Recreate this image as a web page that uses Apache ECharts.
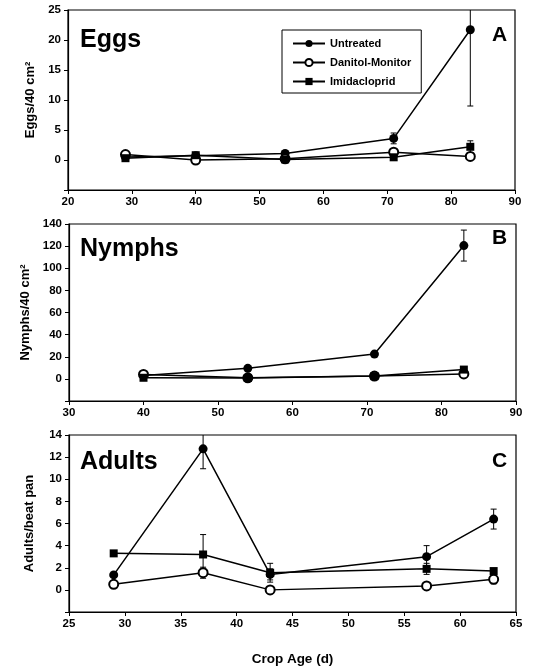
<!DOCTYPE html>
<html>
<head>
<meta charset="utf-8">
<script src="https://cdn.jsdelivr.net/npm/echarts@6/dist/echarts.min.js"></script>
<style>html,body{margin:0;padding:0;background:#fff}#c{width:552px;height:671px}</style>
</head>
<body>
<div id="c"></div>
<script>
// ---- data ----
const seriesNames = ['Untreated', 'Danitol-Monitor', 'Imidacloprid'];
const panelTitles = ['Eggs', 'Nymphs', 'Adults'];
const panelLetters = ['A', 'B', 'C'];
const yNames = ['Eggs/40 cm²', 'Nymphs/40 cm²', 'Adults/beat pan'];
const xName = 'Crop Age (d)';

const eggsX = [29, 40, 54, 71, 83];
const eggsUntreated = [0.5, 0.7, 1.1, 3.6, 21.7];
const eggsUntreatedErr = [0, 0, 0.3, 0.9, 12.7];
const eggsDanitol = [0.9, 0.0, 0.2, 1.3, 0.6];
const eggsDanitolErr = [0, 0, 0, 0.3, 0];
const eggsImid = [0.3, 0.8, 0.1, 0.45, 2.2];
const eggsImidErr = [0, 0.2, 0, 0, 1.0];

const nymphsX = [40, 54, 71, 83];
const nymphsUntreated = [3, 9.5, 22.4, 120.5];
const nymphsUntreatedErr = [0, 0, 0, 14];
const nymphsDanitol = [4, 1, 2.5, 4.5];
const nymphsDanitolErr = [0, 0, 0, 0];
const nymphsImid = [1, 0.8, 2.5, 8.4];
const nymphsImidErr = [0, 0, 0, 0];

const adultsX = [29, 37, 43, 57, 63];
const adultsUntreated = [1.35, 12.75, 1.4, 3.0, 6.4];
const adultsUntreatedErr = [0, 1.8, 0.5, 1.0, 0.9];
const adultsDanitol = [0.5, 1.55, 0, 0.36, 0.95];
const adultsDanitolErr = [0, 0.5, 0, 0, 0.4];
const adultsImid = [3.3, 3.2, 1.55, 1.9, 1.7];
const adultsImidErr = [0, 1.8, 0.85, 0.5, 0];

const xAxes = [
  {min: 20, max: 90, interval: 10},
  {min: 30, max: 90, interval: 10},
  {min: 25, max: 65, interval: 5}
];
const yAxes = [
  {min: -5, max: 25, interval: 5},
  {min: -20, max: 140, interval: 20},
  {min: -2, max: 14, interval: 2}
];

const panels = [
  {x: eggsX, vals: [eggsUntreated, eggsDanitol, eggsImid], errs: [eggsUntreatedErr, eggsDanitolErr, eggsImidErr]},
  {x: nymphsX, vals: [nymphsUntreated, nymphsDanitol, nymphsImid], errs: [nymphsUntreatedErr, nymphsDanitolErr, nymphsImidErr]},
  {x: adultsX, vals: [adultsUntreated, adultsDanitol, adultsImid], errs: [adultsUntreatedErr, adultsDanitolErr, adultsImidErr]}
];

// ---- layout/style ----
const FONT = '"Liberation Sans", Arial, sans-serif';
const grids = [
  {left: 68, top: 10, width: 447, height: 180},
  {left: 69, top: 224, width: 447, height: 177},
  {left: 69, top: 435, width: 447, height: 177}
];
const symbols = ['circle', 'emptyCircle', 'rect'];
const symbolSizes = [9, 9, 8];

function errRender(params, api) {
  const x = api.value(0), y = api.value(1), e = api.value(2);
  if (!e) return null;
  const cs = params.coordSys;
  const top = api.coord([x, y + e]);
  const bot = api.coord([x, y - e]);
  const minY = cs.y, maxY = cs.y + cs.height;
  const t = Math.max(top[1], minY), b = Math.min(bot[1], maxY);
  const children = [{type: 'line', shape: {x1: top[0], y1: t, x2: bot[0], y2: b}, style: {stroke: '#000', lineWidth: 1}}];
  const hw = 3;
  if (top[1] >= minY) children.push({type: 'line', shape: {x1: top[0] - hw, y1: top[1], x2: top[0] + hw, y2: top[1]}, style: {stroke: '#000', lineWidth: 1}});
  if (bot[1] <= maxY) children.push({type: 'line', shape: {x1: bot[0] - hw, y1: bot[1], x2: bot[0] + hw, y2: bot[1]}, style: {stroke: '#000', lineWidth: 1}});
  return {type: 'group', children};
}

const series = [];
panels.forEach((p, pi) => {
  p.vals.forEach((v, si) => {
    series.push({
      type: 'custom', name: seriesNames[si] + ' err', xAxisIndex: pi, yAxisIndex: pi,
      renderItem: errRender, z: 1, silent: true,
      data: p.x.map((x, i) => [x, v[i], p.errs[si][i]])
    });
  });
  p.vals.forEach((v, si) => {
    series.push({
      type: 'line', name: seriesNames[si], xAxisIndex: pi, yAxisIndex: pi,
      data: p.x.map((x, i) => [x, v[i]]),
      symbol: symbols[si], symbolSize: symbolSizes[si], showSymbol: true,
      lineStyle: {color: '#000', width: 1.5},
      itemStyle: {color: '#000', borderColor: '#000', borderWidth: si === 1 ? 1.3 : 0},
      z: 3 + si, animation: false
    });
  });
});

const option = {
  animation: false,
  backgroundColor: '#fff',
  textStyle: {fontFamily: FONT},
  grid: grids.map(g => Object.assign({show: true, borderColor: '#000', borderWidth: 1.2, backgroundColor: 'transparent'}, g)),
  xAxis: xAxes.map((a, i) => Object.assign({
    type: 'value', gridIndex: i, splitLine: {show: false},
    axisLine: {show: true, onZero: false, lineStyle: {color: '#000', width: 1.2}},
    axisTick: {show: true, length: 4, lineStyle: {color: '#000'}},
    axisLabel: {color: '#000', fontWeight: 'bold', fontSize: 11.5, fontFamily: FONT, margin: 6},
    name: i === 2 ? xName : '', nameLocation: 'middle', nameGap: 40,
    nameTextStyle: {color: '#000', fontWeight: 'bold', fontSize: 13.5, fontFamily: FONT}
  }, a)),
  yAxis: yAxes.map((a, i) => Object.assign({
    type: 'value', gridIndex: i, splitLine: {show: false},
    axisLine: {show: true, onZero: false, lineStyle: {color: '#000', width: 1.2}},
    axisTick: {show: true, length: 4, lineStyle: {color: '#000'}},
    axisLabel: {color: '#000', fontWeight: 'bold', fontSize: 11.5, fontFamily: FONT, margin: 7,
      formatter: v => (v < 0 ? '' : String(v))},
    name: yNames[i], nameLocation: 'middle', nameGap: i === 2 ? 33 : 31, nameRotate: 90,
    nameTextStyle: {color: '#000', fontWeight: 'bold', fontSize: 13, fontFamily: FONT}
  }, a)),
  legend: {
    data: seriesNames.map(n => ({name: n})),
    orient: 'vertical', left: 282, top: 30, width: 135,
    itemWidth: 32, itemHeight: 9, itemGap: 8,
    padding: [8, 10, 6, 10],
    borderColor: '#000', borderWidth: 1, backgroundColor: '#fff',
    textStyle: {color: '#000', fontSize: 11, fontFamily: FONT, fontWeight: 'bold', padding: [0, 10, 0, 0]},
    selectedMode: false
  },
  graphic: [
    ...panelTitles.map((t, i) => ({
      type: 'text', left: 80, top: [28, 237, 450][i], z: 10,
      style: {text: t, font: 'bold 25px ' + FONT, fill: '#000'}
    })),
    ...panelLetters.map((t, i) => ({
      type: 'text', left: 492, top: [25, 228, 451][i], z: 10,
      style: {text: t, font: 'bold 21px ' + FONT, fill: '#000'}
    }))
  ],
  series
};

const chart = echarts.init(document.getElementById('c'), null, {renderer: 'canvas'});
chart.setOption(option);
</script>
</body>
</html>
